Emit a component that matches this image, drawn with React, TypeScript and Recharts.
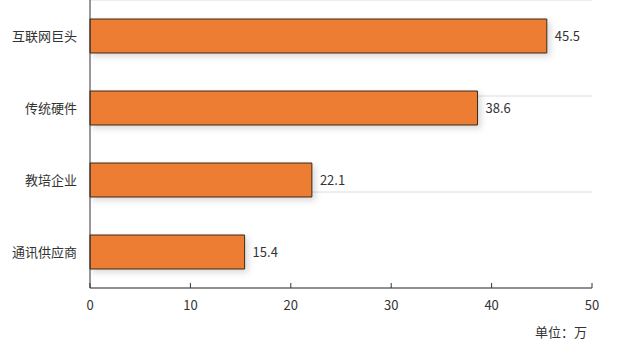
import { BarChart, Bar, XAxis, YAxis, CartesianGrid, LabelList } from 'recharts';

const categories = ['互联网巨头', '传统硬件', '教培企业', '通讯供应商'];
const values = [45.5, 38.6, 22.1, 15.4];
const xTicks = [0, 10, 20, 30, 40, 50];
const bandBoundaries = [1, 2, 3];
const unitLabel = '单位：万';

const data = categories.map((name, i) => ({ name, value: values[i] }));

const font = '"Noto Sans CJK SC", "Noto Sans", sans-serif';

export default function App() {
    return (
        <div style={{ position: 'absolute', left: 0, top: 0, width: 640, height: 357, background: '#fff', fontFamily: font }}>
            <BarChart
                width={640}
                height={357}
                data={data}
                layout="vertical"
                margin={{ top: 0, right: 48, bottom: 15, left: 0 }}
            >
                <defs>
                    <filter id="barShadow" x="-10%" y="-30%" width="130%" height="180%">
                        <feDropShadow dx="3" dy="3" stdDeviation="3" floodColor="#000" floodOpacity="0.15" />
                    </filter>
                </defs>
                <YAxis
                    yAxisId="band"
                    type="number"
                    domain={[0, 4]}
                    ticks={bandBoundaries}
                    width={0}
                    axisLine={false}
                    tickSize={-4}
                    tickLine={{ stroke: '#333' }}
                    tickFormatter={() => ''}
                />
                <CartesianGrid yAxisId="band" vertical={false} stroke="#dcdcdc" />
                <YAxis
                    yAxisId="cat"
                    type="category"
                    dataKey="name"
                    width={90}
                    axisLine={{ stroke: '#333' }}
                    tickLine={false}
                    tickMargin={7}
                    tick={{ fill: '#333', fontSize: 13, fontFamily: font }}
                />
                <XAxis
                    type="number"
                    domain={[0, 50]}
                    ticks={xTicks}
                    height={54}
                    axisLine={{ stroke: '#333' }}
                    tickLine={{ stroke: '#333' }}
                    tickSize={-5}
                    tickMargin={18}
                    tick={{ fill: '#333', fontSize: 13, fontFamily: font }}
                    label={{ value: unitLabel, position: 'insideBottomRight', offset: 5, fill: '#333', fontSize: 13, fontFamily: font }}
                />
                <Bar
                    yAxisId="cat"
                    dataKey="value"
                    fill="#ED7D31"
                    stroke="#3a2a1a"
                    strokeWidth={1}
                    barSize={34}
                    filter="url(#barShadow)"
                    isAnimationActive={false}
                >
                    <LabelList dataKey="value" position="right" offset={8} fill="#333" fontSize={13} fontFamily={font} />
                </Bar>
            </BarChart>
        </div>
    );
}
